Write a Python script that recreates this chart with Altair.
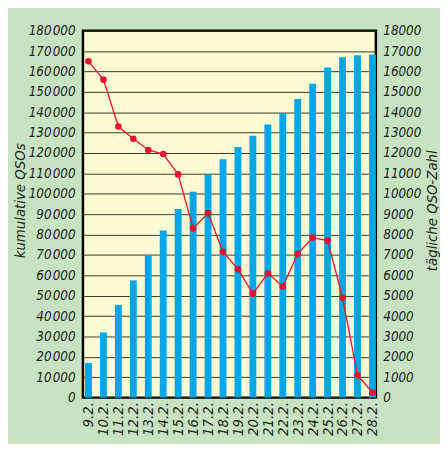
import altair as alt
import pandas as pd

dates = ["9.2.", "10.2.", "11.2.", "12.2.", "13.2.", "14.2.", "15.2.", "16.2.", "17.2.", "18.2.",
         "19.2.", "20.2.", "21.2.", "22.2.", "23.2.", "24.2.", "25.2.", "26.2.", "27.2.", "28.2."]
cumulative = [17000, 32000, 45500, 57500, 70000, 82000, 92500, 101000, 109500, 117000,
              123000, 128500, 134000, 139500, 146500, 154000, 162000, 167000, 168000, 168300]
daily = [16500, 15600, 13300, 12700, 12150, 11950, 10950, 8300, 9050, 7150,
         6300, 5100, 6100, 5450, 7050, 7850, 7700, 4900, 1100, 250]

left_ticks = list(range(0, 180001, 10000))
right_ticks = list(range(0, 18001, 1000))

df = pd.DataFrame({"date": dates, "cum": cumulative, "daily": daily})

FONT = "DejaVu Sans Condensed, sans-serif"
GREEN = "#C9E2C1"
YELLOW = "#FEFAD2"
BLUE = "#00A6E6"
RED = "#E2142E"
TXT = "#222222"
LS = 13.5
XS = 15
TS = 15

x_enc = alt.X("date:N", sort=dates, title=None,
              scale=alt.Scale(paddingInner=0.54, paddingOuter=0.07, align=1),
              axis=alt.Axis(labelAngle=270, labelPadding=4, ticks=False, domain=False,
                            labelFont=FONT, labelFontSize=XS, labelFontStyle="italic",
                            labelColor=TXT, grid=False))

bars = alt.Chart(df).mark_bar(color=BLUE).encode(
    x=x_enc,
    y=alt.Y("cum:Q", title="kumulative QSOs",
            scale=alt.Scale(domain=[0, 180000], nice=False),
            axis=alt.Axis(values=left_ticks, grid=True, gridColor="#3a382c", gridWidth=1,
                          ticks=False, domain=False, labelPadding=8,
                          labelExpr="replace(format(datum.value, ',d'), ',', '\u200a')",
                          labelFont=FONT, labelFontSize=LS, labelFontStyle="italic",
                          labelColor=TXT,
                          titleFont=FONT, titleFontSize=TS, titleFontStyle="italic",
                          titleFontWeight="normal", titleColor=TXT,
                          titleX=-64, titleY=172, titleBaseline="middle")),
)

line = alt.Chart(df).mark_line(color=RED, strokeWidth=1.3, point=alt.OverlayMarkDef(
    color=RED, filled=True, size=45, shape="circle")).encode(
    x=alt.X("date:N", sort=dates),
    y=alt.Y("daily:Q", title="tägliche QSO-Zahl",
            scale=alt.Scale(domain=[0, 18000], nice=False),
            axis=alt.Axis(orient="right", values=right_ticks, grid=False, ticks=False,
                          domain=False, labelPadding=7, format="d",
                          labelFont=FONT, labelFontSize=LS, labelFontStyle="italic",
                          labelColor=TXT,
                          titleFont=FONT, titleFontSize=TS, titleFontStyle="italic",
                          titleFontWeight="normal", titleColor=TXT, titleAngle=270,
                          titleX=56, titleY=182, titleBaseline="middle")),
)

chart = alt.layer(bars, line).resolve_scale(y="independent").properties(
    width=297, height=372,
    padding={"left": 76, "top": 20, "right": 65, "bottom": 44},
    autosize=alt.AutoSizeParams(type="none"),
    background=GREEN,
).configure_view(stroke="black", strokeWidth=2.5, fill=YELLOW)

chart.save("out.html", embed_options={"renderer": "svg", "actions": False})
